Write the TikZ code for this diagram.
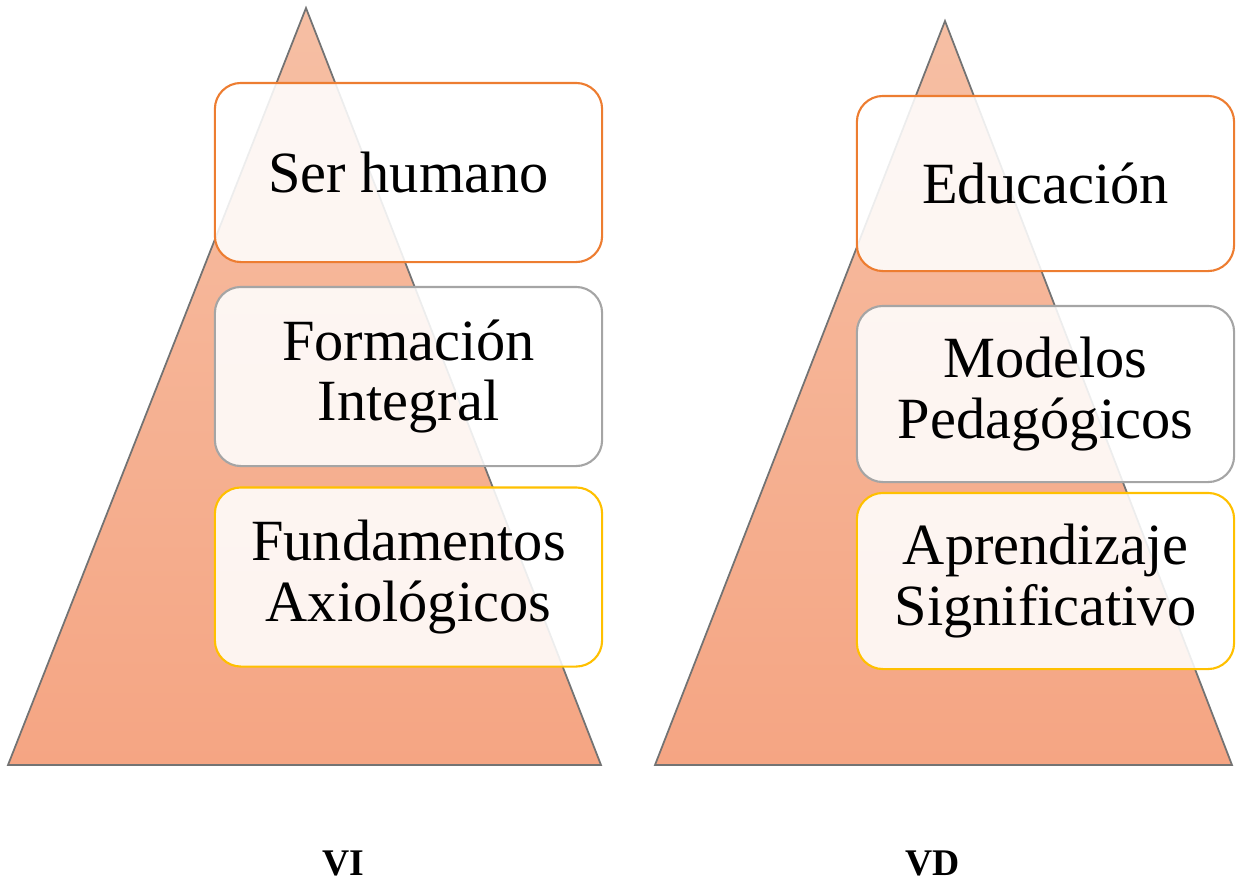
\documentclass[tikz,border=0pt]{standalone}
\usepackage{fontspec}
\setmainfont{Liberation Serif}
\definecolor{apexcol}{HTML}{F6BFA4}
\definecolor{basecol}{HTML}{F5A583}
\definecolor{boxorange}{HTML}{ED7D31}
\definecolor{boxgray}{HTML}{A5A5A5}
\definecolor{boxgold}{HTML}{FFC000}

\begin{document}
\begin{tikzpicture}[x=0.01cm,y=-0.01cm,
  pyramid/.style={draw=gray!90!black,line width=0.5pt,top color=apexcol,bottom color=basecol},
  level/.style={draw=#1,line width=0.6pt,rounded corners=0.26cm,fill=white,fill opacity=0.88,text opacity=1,
    inner sep=0pt,align=center,font=\fontsize{16.6}{17.1}\selectfont},
  caption/.style={anchor=base,font=\bfseries\fontsize{10.7}{12}\selectfont}]
\useasboundingbox (0,0) rectangle (1238,881);

% pyramids
\filldraw[pyramid] (306,8) -- (601,765) -- (8,765) -- cycle;
\filldraw[pyramid] (945,21) -- (1232,765) -- (655,765) -- cycle;

% VI
\node (ser)   at (408.5,172.5) [level=boxorange,minimum width=3.87cm,minimum height=1.79cm] {Ser humano};
\node (form)  at (408.5,376.5) [level=boxgray,minimum width=3.87cm,minimum height=1.79cm] {Formación\\Integral};
\node (fund)  at (408.5,577)   [level=boxgold,minimum width=3.87cm,minimum height=1.79cm] {Fundamentos\\Axiológicos};

% VD
\node (edu)   at (1045.5,183.5) [level=boxorange,minimum width=3.77cm,minimum height=1.75cm] {Educación};
\node (model) at (1045.5,394)   [level=boxgray,minimum width=3.77cm,minimum height=1.76cm] {Modelos\\Pedagógicos};
\node (apren) at (1045.5,581)   [level=boxgold,minimum width=3.77cm,minimum height=1.76cm] {Aprendizaje\\Significativo};

\node (vi) at (343,875) [caption] {VI};
\node (vd) at (933,875) [caption] {VD};
\end{tikzpicture}
\end{document}
